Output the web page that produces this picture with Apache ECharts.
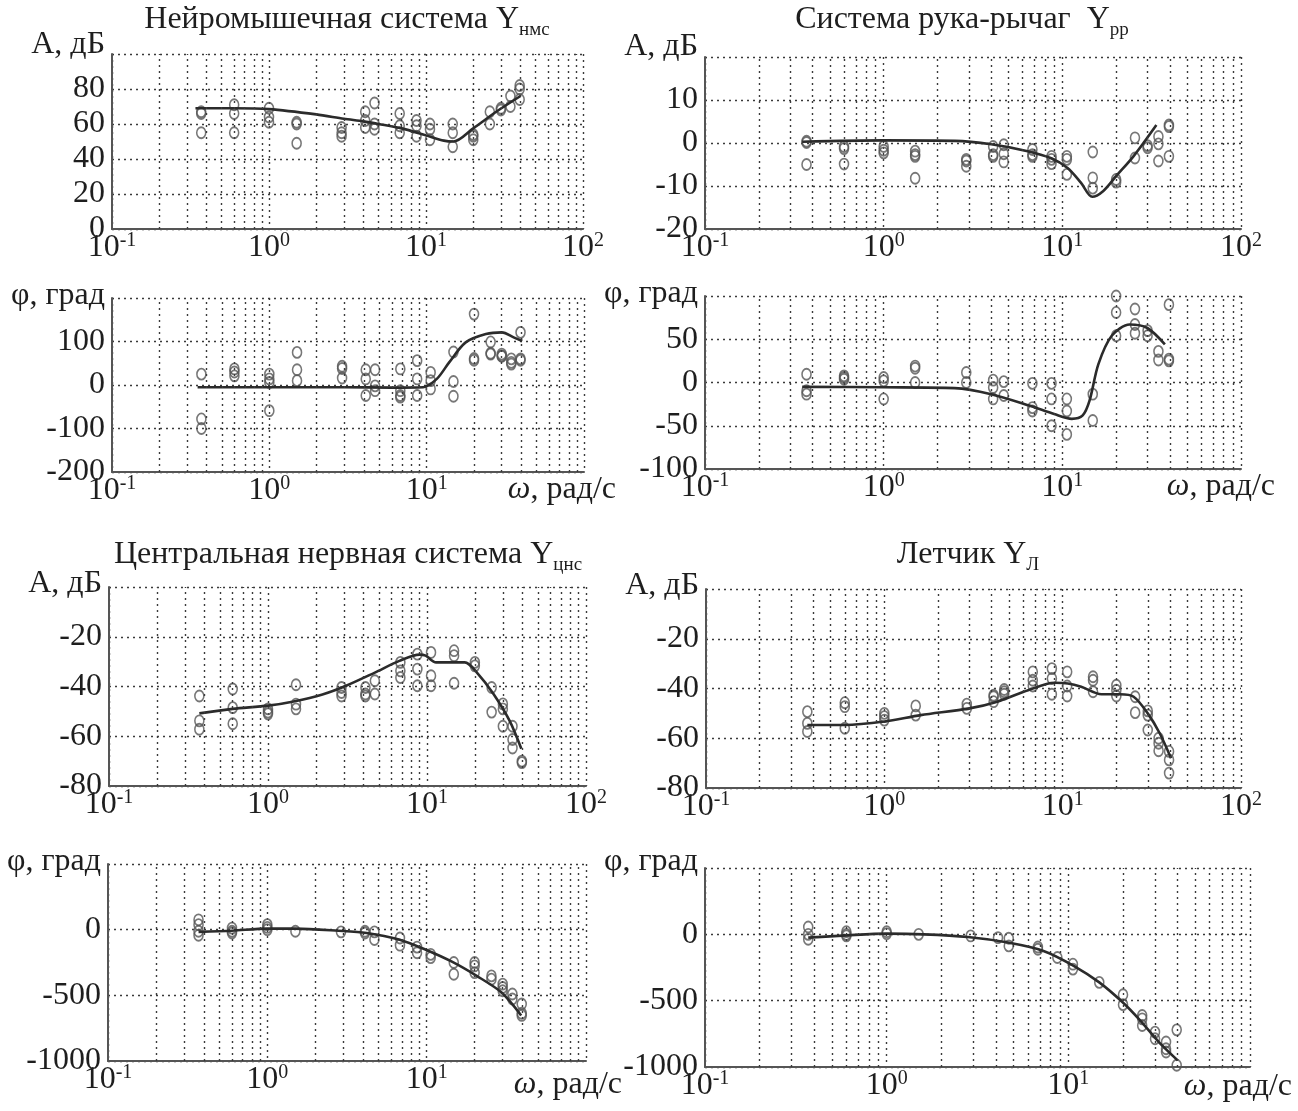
<!DOCTYPE html>
<html>
<head>
<meta charset="utf-8">
<script src="https://cdn.jsdelivr.net/npm/echarts@6/dist/echarts.min.js"></script>
<style>
  html, body { margin: 0; padding: 0; background: #fff; }
  #chart { width: 1298px; height: 1111px; }
</style>
</head>
<body>
<div id="chart"></div>
<script>
// Measurement frequencies, rad/s (one column of points per frequency)
const omega = [0.37, 0.6, 1.0, 1.5, 2.9, 4.1, 4.7, 6.8, 8.7, 10.6, 14.8, 20, 25.5, 30, 34.5, 39.5];

// Neuromuscular system: amplitude (dB) and phase (deg), measured
const nmsAmp = [[67, 66, 55], [71, 66, 55], [69, 64, 61], [61, 60, 49], [58, 55, 53], [67, 62, 58],
  [72, 60, 57], [66, 59, 55], [62, 59, 53], [60, 57, 51], [60, 55, 47], [54, 53, 51],
  [67, 60], [69, 68], [76, 70], [82, 80, 74]];
const nmsPhase = [[25, -78, -100], [37, 30, 21], [25, 14, 6, -59], [75, 35, 10], [43, 38, 16], [35, 14, -24],
  [35, -2, -13], [37, -13, -24, -28], [56, 14, -24], [29, 10, -9], [76, 8, -26], [163, 61, 57],
  [99, 73, 71], [71, 67, 66], [60, 52, 48], [121, 60, 57]];
// Neuromuscular system: fitted curves [omega, value]
const nmsAmpFit = [[0.34, 69], [0.6, 69], [1, 68.5], [2, 65.5], [3, 63], [4, 61.5], [5, 60], [7, 57.5],
  [10, 53.5], [13, 50.5], [15, 50], [20, 57.5], [28, 67], [40, 76]];
const nmsPhaseFit = [[0.35, -5], [1, -5], [3, -5], [6, -6], [9.5, -5], [11.6, 14], [13.9, 52], [17.7, 98],
  [23.8, 117], [30, 121], [36, 109], [40.5, 101]];

// Arm-stick system
const rrAmp = [[0.4, 0.1, -5], [-0.8, -1.3, -4.9], [-0.8, -1.7, -2.3], [-1.9, -2.7, -3.1, -8.2], [-3.8, -4.2, -5.4],
  [-0.8, -2.7, -3.1], [-0.4, -2.5, -4.4], [-1.5, -2.7, -3.1], [-3.1, -3.8, -4.8], [-3.1, -3.8, -7.3],
  [-2.1, -8.1, -10.5], [-8.5, -9.1], [1.2, -3.5], [-0.6, -1.1], [1.5, -0.2, -4.2], [4.2, 3.8, -3.1]];
const rrPhase = [[9.6, -9.6, -13.5], [7.7, 5.8, 3.8], [5.8, 1.9, -19], [19, 16.5, 0], [11.5, 0], [2.7, -5.8, -19],
  [1, -15], [-1, -29, -33], [-1, -19, -50], [-19, -33, -60], [-13.5, -44], [100, 81, 54],
  [85, 67, 57], [60, 54], [36, 26], [90, 27, 25]];
const rrAmpFit = [[0.35, 0.3], [1, 0.6], [2.5, 0.5], [4, -0.3], [6.4, -1.9], [8.6, -3.5], [10.7, -5.8],
  [12.7, -9.2], [14.7, -12.5], [16.9, -11.2], [20, -7.7], [25, -3.1], [33.6, 4.2]];
const rrPhaseFit = [[0.35, -5], [1, -5.5], [2.5, -6.5], [4, -13.5], [6.6, -27], [9, -36.5], [11.3, -42],
  [13, -38], [14.2, -21], [15.9, 21], [18.9, 54], [23.8, 67], [29.9, 63], [37.5, 44]];

// Central nervous system
const cnsAmp = [[-43.8, -53.8, -57.2], [-41, -48.5, -55], [-49, -50.3, -51], [-39.3, -47.1, -49], [-40.4, -42.4, -43.8],
  [-40.4, -43, -43.8], [-37.7, -43], [-30.3, -33.7, -36.4], [-27, -33, -39.7], [-26.3, -35.7, -39.7],
  [-25.6, -27.6, -38.7], [-30.3, -31.7], [-40.4, -50.3], [-47, -49, -56], [-56, -61.3, -64.7], [-70, -70.6]];
const cnsPhase = [[75, 38, -12, -43], [12, -12, -25], [38, 17, 0], [-12], [-17], [-12, -25], [-17, -75],
  [-63, -118], [-133, -176], [-188, -213], [-250, -339], [-250, -276, -327], [-352, -377],
  [-415, -440, -465], [-490, -528], [-566, -636, -653]];
const cnsAmpFit = [[0.37, -50.8], [0.6, -49], [1, -47.7], [1.45, -46], [2.2, -43.2], [3.1, -39.7], [4.7, -34.4],
  [6.7, -29.7], [9, -27.2], [9.8, -27.6], [11.4, -30.3], [14.4, -30.3], [17.3, -30.3], [20.6, -34.4],
  [26.2, -43], [33.1, -53.8], [39.2, -65]];
const cnsPhaseFit = [[0.37, -17], [0.6, -8], [1, 8], [1.5, 8], [2.8, -8], [4.2, -25], [6.7, -75], [9.8, -151],
  [14.4, -244], [20.6, -352], [29.4, -477], [39.2, -653]];

// Pilot
const pilotAmp = [[-49.3, -54, -57.3], [-45.7, -47.3, -56], [-50, -51.3, -52.7], [-47, -50.7], [-46.3, -48],
  [-42.7, -43.3, -45.3], [-40.4, -41.3, -42.3], [-33.3, -36.7, -39], [-32, -36, -42.3], [-33.3, -39, -43],
  [-35.3, -36.7, -41.3], [-38.7, -40.7, -43], [-43.3, -49.7], [-49, -50.7, -56.7], [-60, -62, -65], [-65.3, -68.7, -74]];
const pilotPhase = [[55, 0, -37], [20, 0, -12], [20, 5], [0], [-12], [-25], [-30, -87], [-95, -112], [-175],
  [-225, -262], [-362], [-455, -530], [-612, -637, -687], [-737, -787], [-812, -862, -887], [-720, -987]];
const pilotAmpFit = [[0.37, -54.7], [0.6, -54.7], [1, -53.3], [1.6, -50.7], [3, -48], [4.3, -45.3], [6.4, -40.7],
  [9, -37.7], [10.7, -38], [12.7, -39.3], [16.5, -42.3], [21, -42.3], [25, -43.3], [30, -50], [35, -58], [40.5, -68]];
const pilotPhaseFit = [[0.37, -25], [0.6, -8], [1, 5], [1.6, 0], [2.8, -20], [4.65, -62], [7.3, -125], [10.7, -237],
  [14.8, -362], [19.9, -512], [24.9, -650], [31.5, -812], [40, -950]];

// Axis settings
const ampLabel = 'А, дБ';
const phaseLabel = 'φ, град';
const freqLabel = '{i|ω}, рад/с';
const minorTicks = [0.2, 0.3, 0.4, 0.5, 0.6, 0.7, 0.8, 0.9, 2, 3, 4, 5, 6, 7, 8, 9, 20, 30, 40, 50, 60, 70, 80, 90];

const FONT = 'Liberation Serif';
const FS = 32;
const INK = '#1e1e1e';
const GRIDC = '#3a3a3a';

function toPoints(values) {
  const pts = [];
  values.forEach((col, i) => col.forEach(v => pts.push([omega[i], v])));
  return pts;
}

// One panel per entry: grid box, y range, data
const panels = [
  { box: { left: 112, top: 54, width: 471, height: 175 }, y: [0, 100, 20], name: ampLabel, nameGap: 9,
    pts: nmsAmp, fit: nmsAmpFit, phase: false },
  { box: { left: 112, top: 298, width: 472, height: 174 }, y: [-200, 200, 100], name: phaseLabel, nameGap: 2,
    pts: nmsPhase, fit: nmsPhaseFit, phase: true, fGap: 32, fPad: 2 },
  { box: { left: 705, top: 57, width: 536, height: 172 }, y: [-20, 20, 10], name: ampLabel, nameGap: 10,
    pts: rrAmp, fit: rrAmpFit, phase: false },
  { box: { left: 705, top: 296, width: 536, height: 173 }, y: [-100, 100, 50], name: phaseLabel, nameGap: 2,
    pts: rrPhase, fit: rrPhaseFit, phase: true, fGap: 34, fPad: 2 },
  { box: { left: 109, top: 587, width: 477, height: 199 }, y: [-80, 0, 20], name: ampLabel, nameGap: 3,
    pts: cnsAmp, fit: cnsAmpFit, phase: false },
  { box: { left: 706, top: 589, width: 535, height: 199 }, y: [-80, 0, 20], name: ampLabel, nameGap: 3,
    pts: pilotAmp, fit: pilotAmpFit, phase: false },
  { box: { left: 108, top: 864, width: 478, height: 197 }, y: [-1000, 500, 500], name: phaseLabel, nameGap: 2,
    pts: cnsPhase, fit: cnsPhaseFit, phase: true, fGap: 36, fPad: 8 },
  { box: { left: 705, top: 868, width: 545, height: 199 }, y: [-1000, 500, 500], name: phaseLabel, nameGap: 6,
    pts: pilotPhase, fit: pilotPhaseFit, phase: true, fGap: 42, fPad: 4 }
];

const titles = [
  { text: 'Нейромышечная система Y{s|нмс}', x: 347, top: 4 },
  { text: 'Система рука-рычаг  Y{s|рр}', x: 962, top: 4 },
  { text: 'Центральная нервная система Y{s|цнс}', x: 348, top: 539 },
  { text: 'Летчик Y{s|Л}', x: 968, top: 539 }
];

const dotted = { type: [2, 4], color: GRIDC, width: 1.4 };
const axisText = { fontFamily: FONT, fontSize: FS, color: INK };

const option = {
  backgroundColor: '#fff',
  animation: false,
  title: titles.map(t => ({
    text: t.text, left: t.x, top: t.top, textAlign: 'center', padding: 0,
    textStyle: {
      fontFamily: FONT, fontSize: FS, fontWeight: 'normal', color: INK,
      rich: { s: { fontFamily: FONT, fontSize: 19, color: INK, verticalAlign: 'bottom', padding: [0, 0, -4, 0] } }
    }
  })),
  grid: panels.map(p => Object.assign({ containLabel: false }, p.box)),
  xAxis: panels.map((p, i) => ({
    type: 'log', logBase: 10, min: 0.1, max: 100, gridIndex: i,
    axisLine: { show: true, onZero: false, lineStyle: { color: '#555', width: 2 } },
    axisTick: { show: false },
    splitLine: { show: true, lineStyle: dotted },
    axisLabel: {
      margin: 2,
      formatter: v => {
        const e = Math.round(Math.log10(v));
        if (p.phase && e === 2) return '';
        return '{b|10}{s|' + e + '}';
      },
      rich: {
        b: { fontFamily: FONT, fontSize: FS, color: INK, lineHeight: 34 },
        s: { fontFamily: FONT, fontSize: 20, color: INK, verticalAlign: 'top', lineHeight: 20 }
      }
    },
    name: p.phase ? freqLabel : '',
    nameLocation: 'end',
    nameGap: p.fGap || 0,
    nameTextStyle: {
      fontFamily: FONT, fontSize: FS, color: INK, align: 'right', verticalAlign: 'top',
      padding: [p.fPad || 0, 0, 0, 0],
      rich: { i: { fontFamily: FONT, fontSize: FS, color: INK, fontStyle: 'italic' } }
    }
  })),
  yAxis: panels.map((p, i) => ({
    type: 'value', gridIndex: i, min: p.y[0], max: p.y[1], interval: p.y[2],
    axisLine: { show: true, onZero: false, lineStyle: { color: '#555', width: 2 } },
    axisTick: { show: false },
    splitLine: { show: true, lineStyle: dotted },
    axisLabel: Object.assign({ margin: 7, showMaxLabel: false,
      formatter: v => (v === p.y[1] ? '' : String(v)) }, axisText),
    name: p.name,
    nameLocation: 'end',
    nameGap: p.nameGap,
    nameTextStyle: Object.assign({ align: 'right', verticalAlign: 'middle', padding: [0, 7, 0, 0] }, axisText)
  })),
  series: []
};

panels.forEach((p, i) => {
  option.series.push({
    type: 'scatter', xAxisIndex: i, yAxisIndex: i,
    data: toPoints(p.pts),
    symbol: 'circle', symbolSize: [9, 11],
    itemStyle: { color: 'rgba(255,255,255,0)', borderColor: '#555', borderWidth: 1.7 },
    silent: true,
    markLine: {
      silent: true, symbol: 'none', label: { show: false },
      lineStyle: dotted,
      data: minorTicks.map(v => ({ xAxis: v }))
    },
    z: 3
  });
  option.series.push({
    type: 'line', xAxisIndex: i, yAxisIndex: i,
    data: p.fit, smooth: 0.3, showSymbol: false,
    lineStyle: { color: '#2b2b2b', width: 2.6 },
    silent: true, z: 4
  });
});

const chart = echarts.init(document.getElementById('chart'), null, { renderer: 'canvas' });
chart.setOption(option);
</script>
</body>
</html>
